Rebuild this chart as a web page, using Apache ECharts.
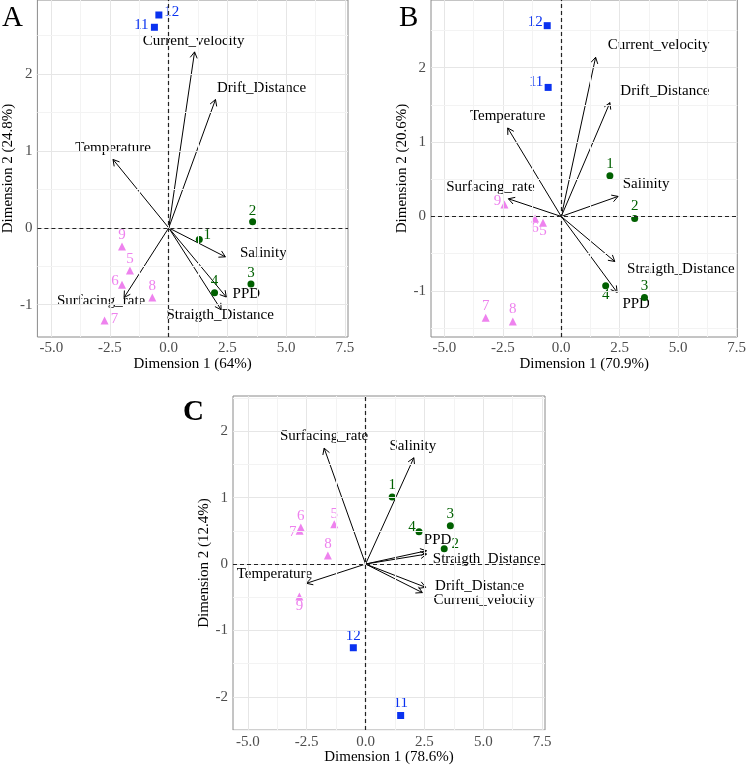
<!DOCTYPE html>
<html lang="en">
  <head>
    <meta charset="UTF-8">
    <title>PCA biplots</title>
    <script src="https://cdn.jsdelivr.net/npm/echarts@6.0.0/dist/echarts.min.js"></script>
  </head>
  <body style="margin:0">
    <div id="main" style="width: 749px;height:766px;"></div>
    <script type="text/javascript">
      // sites (individuals) and their group
      const siteNames = ['1', '2', '3', '4', '5', '6', '7', '8', '9', '11', '12'];
      const siteGroup = ['g', 'g', 'g', 'g', 'v', 'v', 'v', 'v', 'v', 'b', 'b'];

      // site scores per panel
      const dim1A = [1.30, 3.57, 3.50, 1.95, -1.65, -1.99, -2.73, -0.70, -1.99, -0.61, -0.42];
      const dim2A = [-0.15, 0.08, -0.73, -0.845, -0.555, -0.74, -1.205, -0.906, -0.243, 2.61, 2.77];
      const dim1B = [2.08, 3.14, 3.56, 1.90, -0.78, -1.12, -3.23, -2.07, -2.43, -0.56, -0.60];
      const dim2B = [0.547, -0.027, -1.09, -0.93, -0.085, -0.027, -1.36, -1.41, 0.16, 1.735, 2.565];
      const dim1C = [1.13, 3.34, 3.60, 2.27, -1.33, -2.75, -2.80, -1.60, -2.81, 1.49, -0.52];
      const dim2C = [1.01, 0.229, 0.576, 0.487, 0.601, 0.55, 0.50, 0.13, -0.49, -2.28, -1.26];

      // variable loadings per panel
      const varNames = ['Current_velocity', 'Drift_Distance', 'Temperature', 'Salinity', 'PPD', 'Straigth_Distance', 'Surfacing_rate'];
      const varA1 = [1.10, 1.99, -2.37, 2.41, 2.45, 2.23, -1.90];
      const varA2 = [2.29, 1.67, 0.89, -0.377, -0.90, -1.066, -0.906];
      const varB1 = [1.47, 2.08, -2.29, 2.43, 2.39, 2.29, -2.26];
      const varB2 = [2.14, 1.53, 1.19, 0.27, -1.02, -0.605, 0.238];
      const varC1 = [2.41, 2.55, -2.51, 2.05, 2.59, 2.59, -1.76];
      const varC2 = [-0.43, -0.35, -0.29, 1.60, 0.20, 0.15, 1.745];

      const xTicks = [-5, -2.5, 0, 2.5, 5, 7.5];
      const xMinor = [-3.75, -1.25, 1.25, 3.75, 6.25];
      const yTicksAB = [-1, 0, 1, 2];
      const yMinorAB = [-1.5, -0.5, 0.5, 1.5, 2.5];
      const yTicksC = [-2, -1, 0, 1, 2];
      const yMinorC = [-2.5, -1.5, -0.5, 0.5, 1.5, 2.5];

      const serif = '"Liberation Serif", "DejaVu Serif", serif';
      const groupColor = { g: '#006000', v: '#ee82ee', b: '#0a32f0' };
      const groupSymbol = { g: 'circle', v: 'triangle', b: 'rect' };
      const groupSize = { g: 7, v: 8, b: 7 };

      // layout / label placement (pixels)
      const panels = [
        { letter: 'A', bold: false, lx: 2, ly: 4, grid: { left: 35, top: 0, width: 313, height: 337 },
          x: [-5.59, 7.63], y: [-1.42, 2.965], xName: 'Dimension 1 (64%)', yName: 'Dimension 2 (24.8%)',
          d1: dim1A, d2: dim2A, v1: varA1, v2: varA2, yTicks: yTicksAB, yMinor: yMinorAB,
          ptOff: [[8, -4], [0, -11], [0, -11], [0, -12], [0, -11], [-7, -4], [10, -1], [0, -11], [0, -11], [-13, -2], [13, -3]],
          varOff: [[-1, -11], [46, -11], [0, -11], [38, -4], [20, -3], [-1, 5], [-23, 4]] },
        { letter: 'B', bold: false, lx: 399, ly: 4, grid: { left: 431, top: 0, width: 313, height: 337 },
          x: [-5.57, 7.53], y: [-1.62, 2.91], xName: 'Dimension 1 (70.9%)', yName: 'Dimension 2 (20.6%)',
          d1: dim1B, d2: dim2B, v1: varB1, v2: varB2, yTicks: yTicksAB, yMinor: yMinorAB,
          ptOff: [[0, -12], [0, -12], [0, -12], [0, 9], [0, 8], [0, 10], [0, -12], [0, -12], [-7, -4], [-12, -5], [-12, -4]],
          varOff: [[63, -12], [55, -12], [0, -12], [28, -12], [19, 12], [66, 8], [-18, -12]] },
        { letter: 'C', bold: true, lx: 183, ly: 398, grid: { left: 233, top: 396, width: 312, height: 338 },
          x: [-5.63, 7.62], y: [-2.50, 2.53], xName: 'Dimension 1 (78.6%)', yName: 'Dimension 2 (12.4%)',
          d1: dim1C, d2: dim2C, v1: varC1, v2: varC2, yTicks: yTicksC, yMinor: yMinorC,
          ptOff: [[0, -12], [11, -5], [0, -12], [-7, -5], [0, -10], [0, -11], [-7, 1], [0, -11], [0, 9], [0, -12], [0, -12]],
          varOff: [[62, 7], [54, -1], [-32, -9], [-1, -12], [11, -11], [60, 5], [0, -12]] }
      ];

      let myChart = echarts.init(document.getElementById('main'));

      const titles = [], grids = [], xAxes = [], yAxes = [], series = [];

      panels.forEach((p, i) => {
        titles.push({
          text: p.letter, left: p.lx, top: p.ly, padding: 0,
          textStyle: { fontFamily: serif, fontSize: 29, fontWeight: p.bold ? 'bold' : 'normal', color: '#000' }
        });
        grids.push(Object.assign({ show: true, borderColor: '#8a8a8a', borderWidth: 1, backgroundColor: '#fff' }, p.grid));
        xAxes.push({
          gridIndex: i, type: 'value', min: p.x[0], max: p.x[1],
          name: p.xName, nameLocation: 'middle', nameGap: 16,
          nameTextStyle: { fontFamily: serif, fontSize: 15, color: '#000' },
          axisLine: { show: false },
          axisTick: { show: true, length: 3, customValues: xTicks, lineStyle: { color: '#555' } },
          axisLabel: { customValues: xTicks, margin: 4, fontFamily: serif, fontSize: 15, color: '#4d4d4d',
            formatter: v => v.toFixed(1) },
          splitLine: { show: false }
        });
        yAxes.push({
          gridIndex: i, type: 'value', min: p.y[0], max: p.y[1],
          name: p.yName, nameLocation: 'middle', nameGap: 17,
          nameTextStyle: { fontFamily: serif, fontSize: 15, color: '#000' },
          axisLine: { show: false },
          axisTick: { show: true, length: 3, customValues: p.yTicks, lineStyle: { color: '#555' } },
          axisLabel: { customValues: p.yTicks, margin: 5, fontFamily: serif, fontSize: 15, color: '#4d4d4d',
            formatter: v => String(Math.round(v)) },
          splitLine: { show: false }
        });

        // background grid lines
        const major = { color: '#e6e6e6', width: 1, type: 'solid' };
        const minor = { color: '#f3f3f3', width: 1, type: 'solid' };
        const gridLines = []
          .concat(xTicks.map(v => ({ xAxis: v, lineStyle: major })))
          .concat(xMinor.map(v => ({ xAxis: v, lineStyle: minor })))
          .concat(p.yTicks.map(v => ({ yAxis: v, lineStyle: major })))
          .concat(p.yMinor.map(v => ({ yAxis: v, lineStyle: minor })));
        series.push({
          type: 'scatter', xAxisIndex: i, yAxisIndex: i, z: 1, silent: true,
          data: [[0, 0]], symbolSize: 0,
          markLine: { silent: true, symbol: 'none', label: { show: false }, data: gridLines }
        });
        // dashed zero lines
        series.push({
          type: 'scatter', xAxisIndex: i, yAxisIndex: i, z: 2, silent: true,
          data: [[0, 0]], symbolSize: 0,
          markLine: { silent: true, symbol: 'none', label: { show: false },
            lineStyle: { color: '#222', width: 1.2, type: [4, 3] },
            data: [{ xAxis: 0 }, { yAxis: 0 }] }
        });

        // variable arrows
        series.push({
          type: 'custom', xAxisIndex: i, yAxisIndex: i, z: 3, silent: true,
          data: varNames.map((n, k) => [p.v1[k], p.v2[k], k]),
          renderItem: function (params, api) {
            const k = api.value(2);
            const p0 = api.coord([0, 0]);
            const p1 = api.coord([api.value(0), api.value(1)]);
            const ang = Math.atan2(p1[1] - p0[1], p1[0] - p0[0]);
            const L = 7, a = Math.PI / 6;
            const h1 = [p1[0] - L * Math.cos(ang - a), p1[1] - L * Math.sin(ang - a)];
            const h2 = [p1[0] - L * Math.cos(ang + a), p1[1] - L * Math.sin(ang + a)];
            return {
              type: 'group', children: [
                { type: 'line', shape: { x1: p0[0], y1: p0[1], x2: p1[0], y2: p1[1] }, style: { stroke: '#000', lineWidth: 1 } },
                { type: 'polyline', shape: { points: [h1, p1, h2] }, style: { stroke: '#000', lineWidth: 1, fill: null } },
                { type: 'text', x: p1[0] + p.varOff[k][0], y: p1[1] + p.varOff[k][1],
                  style: { text: varNames[k], font: '15px ' + serif, fill: '#000', align: 'center', verticalAlign: 'middle' } }
              ]
            };
          }
        });

        // site points
        series.push({
          type: 'scatter', xAxisIndex: i, yAxisIndex: i, z: 4, silent: true,
          data: siteNames.map((n, k) => {
            const g = siteGroup[k];
            return {
              name: n, value: [p.d1[k], p.d2[k]],
              symbol: groupSymbol[g], symbolSize: groupSize[g],
              itemStyle: { color: groupColor[g], opacity: 1 },
              label: { show: true, position: 'inside', offset: p.ptOff[k], formatter: n,
                fontFamily: serif, fontSize: 15, color: groupColor[g], textBorderWidth: 0 }
            };
          })
        });
      });

      myChart.setOption({
        animation: false,
        title: titles,
        grid: grids,
        xAxis: xAxes,
        yAxis: yAxes,
        series: series
      });
    </script>
  </body>
</html>
